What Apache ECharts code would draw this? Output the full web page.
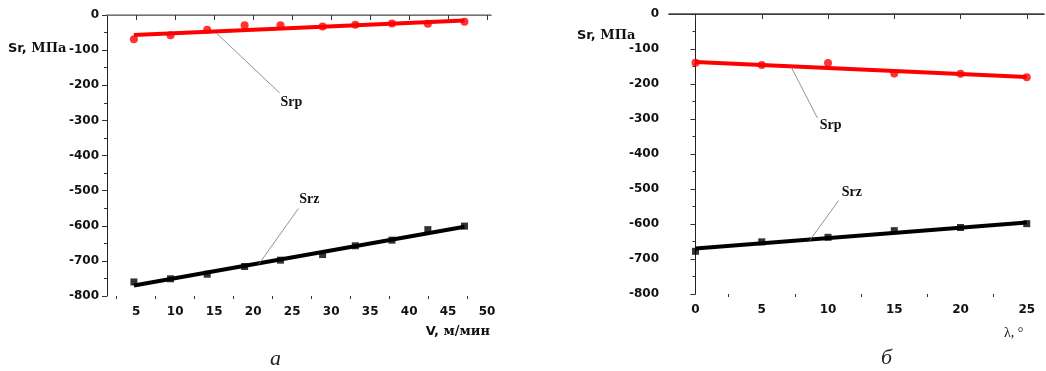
<!DOCTYPE html>
<html>
<head>
<meta charset="utf-8">
<script src="https://cdn.jsdelivr.net/npm/echarts@6.0.0/dist/echarts.min.js"></script>
<style>
html, body { margin: 0; padding: 0; background: #fff; }
#chart { width: 1046px; height: 371px; }
</style>
</head>
<body>
<div id="chart"></div>
<script>
// panel a: Sr vs cutting speed V, m/min
const speedV = [4.7, 9.4, 14.1, 18.9, 23.5, 28.9, 33.1, 37.8, 42.4, 47.1];
const srpByV = [-69, -58, -42, -29, -29, -33, -28, -24, -25, -19];
const srzByV = [-760, -751, -738, -716, -698, -682, -657, -641, -611, -601];
const srpFitV = [[4.7, -57], [47.1, -16]];
const srzFitV = [[4.7, -770], [47.1, -603]];

// panel b: Sr vs angle lambda
const lambdaDeg = [0, 5, 10, 15, 20, 25];
const srpByL = [-139, -146, -140, -170, -171, -181];
const srzByL = [-678, -651, -638, -619, -610, -599];
const srpFitL = [[0, -137], [25, -180]];
const srzFitL = [[0, -670], [25, -596]];

// ticks
const vMajor = [5, 10, 15, 20, 25, 30, 35, 40, 45, 50];
const vMinor = [2.5, 7.5, 12.5, 17.5, 22.5, 27.5, 32.5, 37.5, 42.5, 47.5];
const lMajor = [0, 5, 10, 15, 20, 25];
const lMinor = [2.5, 7.5, 12.5, 17.5, 22.5];

const chart = echarts.init(document.getElementById('chart'));

const tickFont = {
  fontFamily: 'DejaVu Sans',
  fontWeight: 'bold',
  fontSize: 12,
  color: '#111',
};

const titleRich = {
  a: { fontFamily: 'DejaVu Sans', fontWeight: 'bold', fontSize: 13, fill: '#111' },
  b: { fontFamily: 'DejaVu Serif', fontWeight: 'bold', fontSize: 13, fill: '#111' },
};

function xAxes(grid, min, max, major, minor, topColor) {
  return [
    {
      gridIndex: grid, type: 'value', min, max, position: 'bottom',
      axisLine: { lineStyle: { color: '#333', width: 1 } },
      axisTick: { customValues: major, length: 5, lineStyle: { color: '#333' } },
      axisLabel: { ...tickFont, customValues: major, margin: 10 },
      splitLine: { show: false },
    },
    {
      gridIndex: grid, type: 'value', min, max, position: 'bottom',
      axisLine: { show: false },
      axisTick: { customValues: minor, length: 3, lineStyle: { color: '#333' } },
      axisLabel: { show: false },
      splitLine: { show: false },
    },
    {
      gridIndex: grid, type: 'value', min, max, position: 'top',
      axisLine: { lineStyle: { color: topColor, width: 1.5 } },
      axisTick: { show: false },
      axisLabel: { show: false },
      splitLine: { show: false },
    },
  ];
}

function yAxis(grid, margin) {
  return {
    gridIndex: grid, type: 'value', min: -800, max: 0, interval: 100,
    axisLine: { show: true, lineStyle: { color: '#222' } },
    axisTick: { show: true, length: 5, lineStyle: { color: '#333' } },
    minorTick: { show: true, splitNumber: 2, length: 3, lineStyle: { color: '#333' } },
    axisLabel: { ...tickFont, margin },
    splitLine: { show: false },
  };
}

function leader(from, to, text, textAt) {
  return {
    markLine: {
      silent: true, symbol: 'none', animation: false,
      lineStyle: { color: '#777', width: 0.8, type: 'solid' },
      label: { show: false },
      data: [[{ coord: from }, { coord: to }]],
    },
    markPoint: {
      silent: true, symbol: 'circle', symbolSize: 0, animation: false,
      label: {
        show: true, position: 'inside', formatter: text,
        fontFamily: 'Liberation Serif', fontWeight: 'bold', fontSize: 14, color: '#111',
      },
      data: [{ coord: textAt }],
    },
  };
}

function fitLine(xi, yi, data, color, note) {
  return {
    type: 'line', xAxisIndex: xi, yAxisIndex: yi, data,
    showSymbol: false, animation: false,
    lineStyle: { color, width: 4 },
    z: 2,
    ...note,
  };
}

function points(xi, yi, xs, ys, color, symbol, size) {
  return {
    type: 'scatter', xAxisIndex: xi, yAxisIndex: yi,
    data: xs.map((x, i) => [x, ys[i]]),
    symbol, symbolSize: size, animation: false,
    itemStyle: { color },
    z: 3,
  };
}

const option = {
  backgroundColor: '#fff',
  animation: false,
  grid: [
    { left: 107, top: 15, width: 384, height: 281 },
    { left: 669, top: 14, width: 375, height: 280 },
  ],
  xAxis: [
    ...xAxes(0, 1.25, 50.5, vMajor, vMinor, '#8a8a8a'),
    ...xAxes(1, -2, 26.3, lMajor, lMinor, '#444'),
  ],
  yAxis: [yAxis(0, 8), yAxis(1, 10)],
  series: [
    fitLine(0, 0, srpFitV, '#ff0000', leader([15.3, -52], [23.4, -222], 'Srp', [24.9, -248])),
    points(0, 0, speedV, srpByV, '#ff0000', 'circle', 8),
    fitLine(0, 0, srzFitV, '#000', leader([25.8, -551], [20.7, -710], 'Srz', [27.2, -524])),
    points(0, 0, speedV, srzByV, '#000', 'rect', 7),

    fitLine(3, 1, srpFitL, '#ff0000', leader([7.2, -150], [9.2, -297], 'Srp', [10.2, -317])),
    points(3, 1, lambdaDeg, srpByL, '#ff0000', 'circle', 8),
    fitLine(3, 1, srzFitL, '#000', leader([10.8, -533], [8.6, -648], 'Srz', [11.8, -511])),
    points(3, 1, lambdaDeg, srzByL, '#000', 'rect', 7),
  ],
  graphic: [
    {
      type: 'text', left: 8, top: 42,
      style: { text: '{a|Sr, }{b|МПа}', rich: titleRich },
    },
    {
      type: 'text', left: 577, top: 29,
      style: { text: '{a|Sr, }{b|МПа}', rich: titleRich },
    },
    {
      type: 'text', right: 1046 - 490, top: 325,
      style: { text: '{a|V, }{b|м/мин}', rich: titleRich },
    },
    {
      type: 'text', left: 1004, top: 326,
      style: { text: 'λ, °', font: '14px "Liberation Serif"', fill: '#111' },
    },
    {
      type: 'text', left: 270, top: 348,
      style: { text: 'а', font: 'italic 22px "Liberation Serif"', fill: '#222' },
    },
    {
      type: 'text', left: 881, top: 347,
      style: { text: 'б', font: 'italic 22px "Liberation Serif"', fill: '#222' },
    },
  ],
};

chart.setOption(option);
</script>
</body>
</html>
